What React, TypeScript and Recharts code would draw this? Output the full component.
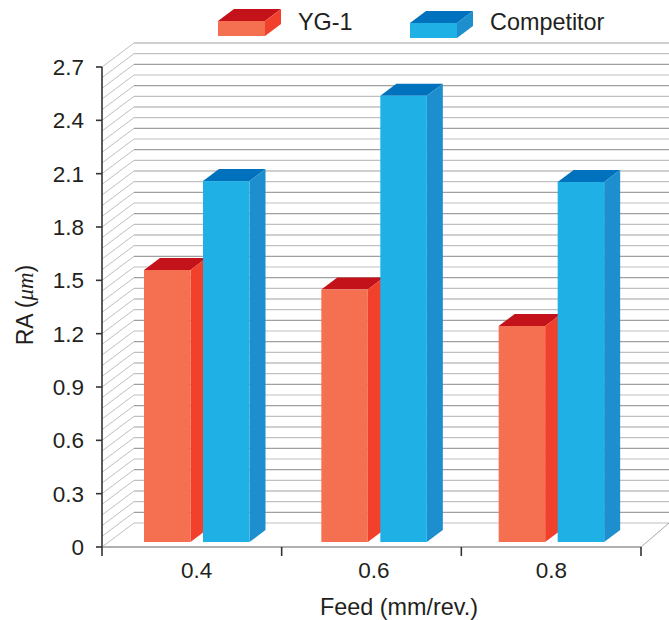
import React from "react";
import { BarChart, Bar, XAxis, YAxis } from "recharts";

const categories = ["0.4", "0.6", "0.8"];
const yg1Values = [1.53, 1.42, 1.215];
const competitorValues = [2.03, 2.51, 2.025];
const yTicks = [0, 0.3, 0.6, 0.9, 1.2, 1.5, 1.8, 2.1, 2.4, 2.7];
const gridSteps = 45;

const data = categories.map((feed, i) => ({
  feed,
  yg1: yg1Values[i],
  competitor: competitorValues[i],
}));

const RED = { front: "#f47050", side: "#f1402b", top: "#c4121a" };
const BLUE = { front: "#1fb0e6", side: "#1e8fce", top: "#0071bc" };
const TEXT = "#231f20";
const FONT = "'Liberation Sans', Arial, sans-serif";

const L = 102, R = 641, T = 67, B = 547;
const DX = 32, DY = 24;
const BX = 16, BY = 12, LIFT = 5;

function box(x: number, y: number, w: number, h: number, c: typeof RED) {
  return (
    <g>
      <polygon points={`${x},${y} ${x + BX},${y - BY} ${x + w + BX},${y - BY} ${x + w},${y}`} fill={c.top} />
      <polygon points={`${x + w},${y} ${x + w + BX},${y - BY} ${x + w + BX},${y + h - BY} ${x + w},${y + h}`} fill={c.side} />
      <rect x={x} y={y} width={w} height={h} fill={c.front} />
    </g>
  );
}

const barShape = (c: typeof RED) => (p: any) => box(p.x, p.y - LIFT, p.width, p.height, c);

function Wall() {
  const lines = [];
  for (let i = 0; i <= gridSteps; i++) {
    const yFront = B - (i * (B - T)) / gridSteps;
    const yBack = yFront - DY;
    const stroke = i % 2 ? "#a0a0a0" : "#c0c0c0";
    lines.push(
      <g key={i}>
        <line x1={L} y1={yFront} x2={L + DX} y2={yBack} stroke="#aeaeae" strokeWidth={0.8} />
        <line x1={L + DX} y1={yBack} x2={669} y2={yBack} stroke={stroke} strokeWidth={1.1} />
      </g>
    );
  }
  return (
    <g>
      {lines}
      <line x1={R} y1={B} x2={669} y2={B - DY} stroke="#a8a8a8" strokeWidth={1} />
      <line x1={L} y1={B} x2={R} y2={B} stroke="#b0b0b0" strokeWidth={2} />
    </g>
  );
}

function XTicks() {
  const step = (R - L) / categories.length;
  return (
    <g>
      {[0, 1, 2, 3].map((i) => (
        <line key={i} x1={L + i * step} y1={B} x2={L + i * step} y2={B + 9} stroke="#333" strokeWidth={1.6} />
      ))}
    </g>
  );
}

function LegendBox() {
  return (
    <g fontFamily={FONT} fontSize={23.4} fill={TEXT}>
      {box(218, 21, 47, 15, RED)}
      <text x={298} y={30}>YG-1</text>
      {box(410, 23, 47, 15, BLUE)}
      <text x={490} y={30}>Competitor</text>
    </g>
  );
}

export default function App() {
  return (
    <div style={{ position: "absolute", left: 0, top: 0, width: 669, height: 620 }}>
      <BarChart
        width={669}
        height={620}
        data={data}
        margin={{ top: 67, right: 28, bottom: 43, left: 0 }}
        barSize={46.5}
        barGap={12.5}
      >
        <Wall />
        <XAxis
          dataKey="feed"
          height={30}
          padding={{ left: 6, right: 1 }}
          axisLine={false}
          tickLine={false}
          interval={0}
          tickMargin={9}
          tick={{ fontSize: 22.5, fill: TEXT, fontFamily: FONT }}
        />
        <YAxis
          width={102}
          domain={[0, 2.7]}
          ticks={yTicks}
          interval={0}
          tickSize={6}
          tickMargin={12}
          axisLine={{ stroke: "#333", strokeWidth: 1.6 }}
          tickLine={{ stroke: "#333", strokeWidth: 1.6 }}
          tick={{ fontSize: 22.5, fill: TEXT, fontFamily: FONT }}
        />
        <Bar dataKey="yg1" name="YG-1" isAnimationActive={false} shape={barShape(RED)} />
        <Bar dataKey="competitor" name="Competitor" isAnimationActive={false} shape={barShape(BLUE)} />
        <XTicks />
        <LegendBox />
        <text x={399} y={615} textAnchor="middle" fontFamily={FONT} fontSize={23.4} fill={TEXT}>Feed (mm/rev.)</text>
        <text x={33} y={305} textAnchor="middle" transform="rotate(-90 33 305)" fontFamily={FONT} fontSize={23} fill={TEXT}>
          RA (<tspan fontStyle="italic" fontFamily="'Liberation Serif', serif">μm</tspan>)
        </text>
      </BarChart>
    </div>
  );
}
